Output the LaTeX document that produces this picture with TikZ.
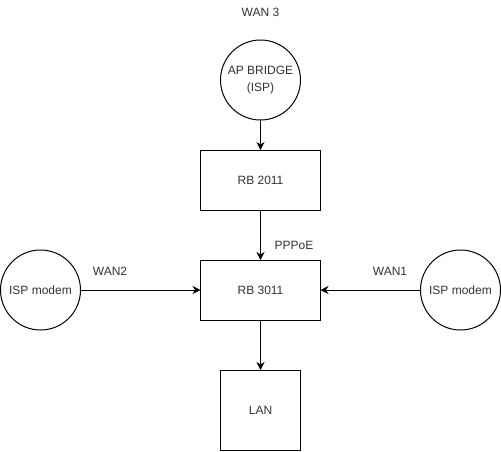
\documentclass[tikz,border=0pt]{standalone}
\usepackage{fontspec}
\setmainfont{Liberation Sans}
\usetikzlibrary{arrows.meta}
\newcommand{\lineWidth}{1pt}
\newcommand{\arrow}{{Stealth[length=8pt, width=8pt, inset=2.5pt]}}
\newcommand{\labelFont}{\fontsize{12}{16.5}\selectfont}
\newcommand{\boxWidth}{120pt}
\newcommand{\boxHeight}{60pt}
\newcommand{\lanSize}{80pt}
\newcommand{\discSize}{80pt}
\definecolor{textGray}{gray}{0.2}
\tikzstyle{panel}=[draw=black, line width=\lineWidth, inner sep=0, outer sep=0, font=\labelFont, text=textGray]
\tikzstyle{box}=[panel, minimum width=\boxWidth, minimum height=\boxHeight]
\tikzstyle{disc}=[panel, circle, minimum size=\discSize, align=center]
\tikzstyle{tag}=[inner sep=0, font=\labelFont, text=textGray]
\tikzstyle{link}=[draw=black, line width=\lineWidth, -\arrow]

\begin{document}
\begin{tikzpicture}[x=1pt, y=-1pt]

% Frame
\fill[white] (0,0) rectangle (501,451);
\useasboundingbox (0,0) rectangle (501,451);

% Devices
\node[disc] (bridge) at (260.5,80) {AP BRIDGE\\(ISP)};
\node[box] (routerTop) at (260.5,180) {RB 2011};
\node[box] (routerMain) at (260.5,290) {RB 3011};
\node[box, minimum width=\lanSize, minimum height=\lanSize] (lan) at (260.5,410) {LAN};
\node[disc] (modemLeft) at (40.5,290) {ISP modem};
\node[disc] (modemRight) at (460.5,290) {ISP modem};

% Labels
\node[tag] (wanThree) at (260.5,12) {WAN 3};
\node[tag] (pppoe) at (294,245) {PPPoE};
\node[tag] (wanTwo) at (110,271) {WAN2};
\node[tag] (wanOne) at (390,271) {WAN1};

% Links
\draw[link] (bridge) -- (routerTop);
\draw[link] (routerTop) -- (routerMain);
\draw[link] (routerMain) -- (lan);
\draw[link] (modemLeft) -- (routerMain);
\draw[link] (modemRight) -- (routerMain);

\end{tikzpicture}
\end{document}
